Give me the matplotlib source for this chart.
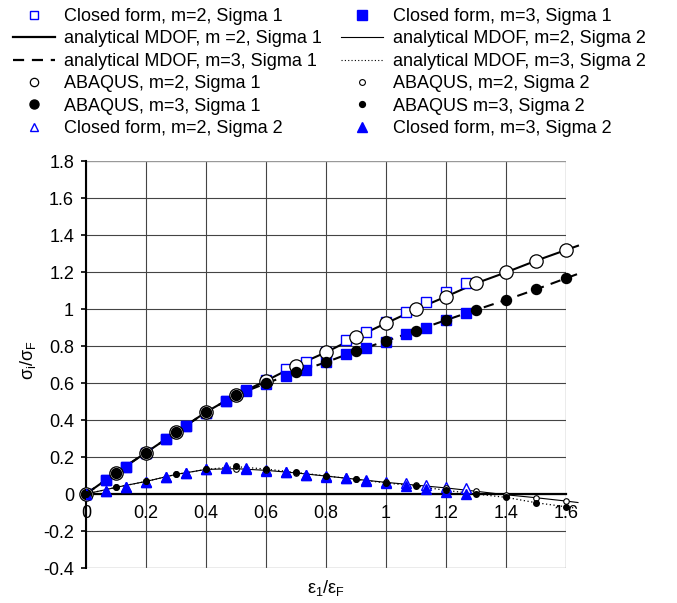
import matplotlib
matplotlib.use("Agg")
import matplotlib.pyplot as plt
from matplotlib.lines import Line2D
from matplotlib.ticker import FuncFormatter

plt.rcParams["font.family"] = ["Liberation Sans", "DejaVu Sans"]
plt.rcParams["mathtext.default"] = "regular"

BLUE = "#0000ff"

# closed-form solution, sampled at eps/epsF = k/15
cf_x = [0.0, 0.067, 0.133, 0.2, 0.267, 0.333, 0.4, 0.467, 0.533, 0.6,
        0.667, 0.733, 0.8, 0.867, 0.933, 1.0, 1.067, 1.133, 1.2, 1.267]
cf_m2_s1 = [0.0, 0.075, 0.148, 0.222, 0.296, 0.366, 0.437, 0.503, 0.560, 0.615,
            0.675, 0.715, 0.770, 0.832, 0.877, 0.930, 0.985, 1.040, 1.094, 1.142]
cf_m3_s1 = [0.0, 0.075, 0.148, 0.222, 0.296, 0.366, 0.437, 0.503, 0.558, 0.592,
            0.637, 0.672, 0.714, 0.756, 0.789, 0.822, 0.865, 0.900, 0.940, 0.977]
cf_m2_s2 = [0.0, 0.018, 0.040, 0.066, 0.094, 0.112, 0.133, 0.140, 0.135, 0.127,
            0.117, 0.105, 0.097, 0.088, 0.078, 0.067, 0.057, 0.049, 0.040, 0.031]
cf_m3_s2 = [0.0, 0.018, 0.040, 0.066, 0.094, 0.112, 0.133, 0.144, 0.142, 0.130,
            0.117, 0.103, 0.094, 0.085, 0.072, 0.058, 0.043, 0.025, 0.012, 0.0]

# ABAQUS results
abq_x = [0.0, 0.1, 0.2, 0.3, 0.4, 0.5, 0.6, 0.7, 0.8, 0.9,
         1.0, 1.1, 1.2, 1.3, 1.4, 1.5, 1.6]
abq_m2_s1 = [0.0, 0.115, 0.224, 0.333, 0.443, 0.535, 0.612, 0.694, 0.766, 0.847,
             0.923, 0.998, 1.067, 1.139, 1.198, 1.261, 1.319]
abq_m3_s1 = [0.0, 0.115, 0.224, 0.333, 0.443, 0.535, 0.598, 0.658, 0.712, 0.773,
             0.827, 0.883, 0.940, 0.995, 1.049, 1.106, 1.166]
abq_m2_s2 = [0.0, 0.036, 0.068, 0.106, 0.133, 0.137, 0.128, 0.114, 0.097, 0.080,
             0.063, 0.048, 0.033, 0.015, -0.004, -0.020, -0.038]
abq_m3_s2 = [0.0, 0.036, 0.068, 0.106, 0.133, 0.151, 0.135, 0.117, 0.098, 0.079,
             0.060, 0.043, 0.020, 0.0, -0.018, -0.047, -0.069]

# analytical MDOF curves (run slightly past the last grid line)
an_x = [0.0, 0.1, 0.2, 0.3, 0.4, 0.5, 0.6, 0.7, 0.8, 0.9,
        1.0, 1.1, 1.2, 1.3, 1.4, 1.5, 1.6, 1.64]
an_m2_s1 = [0.0, 0.115, 0.224, 0.333, 0.443, 0.535, 0.612, 0.694, 0.766, 0.847,
            0.923, 0.998, 1.067, 1.139, 1.198, 1.261, 1.319, 1.342]
an_m3_s1 = [0.0, 0.115, 0.224, 0.333, 0.443, 0.535, 0.598, 0.658, 0.712, 0.773,
            0.827, 0.883, 0.940, 0.995, 1.049, 1.106, 1.166, 1.190]
an_m2_s2 = [0.0, 0.036, 0.068, 0.106, 0.133, 0.137, 0.128, 0.114, 0.097, 0.080,
            0.063, 0.048, 0.033, 0.015, -0.004, -0.020, -0.038, -0.046]
an_m3_s2 = [0.0, 0.036, 0.068, 0.106, 0.133, 0.148, 0.135, 0.117, 0.098, 0.079,
            0.060, 0.043, 0.020, 0.0, -0.018, -0.047, -0.069, -0.078]

x_ticks = [0, 0.2, 0.4, 0.6, 0.8, 1.0, 1.2, 1.4, 1.6]
y_ticks = [-0.4, -0.2, 0, 0.2, 0.4, 0.6, 0.8, 1.0, 1.2, 1.4, 1.6, 1.8]

DASHED = (0, (5, 3.5))


def fmt(v, _pos):
    return f"{v:g}"


fig = plt.figure(figsize=(6.77, 6.03), dpi=100)
ax = fig.add_axes([0.127, 0.058, 0.709, 0.675])

# curves
ax.plot(an_x, an_m2_s1, color="black", lw=1.5, clip_on=False, zorder=2)
ax.plot(an_x, an_m3_s1, color="black", lw=1.5, linestyle=DASHED, clip_on=False, zorder=2)
ax.plot(an_x, an_m2_s2, color="black", lw=0.8, clip_on=False, zorder=2)
ax.plot(an_x, an_m3_s2, color="black", lw=0.9, linestyle=(0, (1, 2)), clip_on=False, zorder=2)

# markers
ax.plot(cf_x, cf_m2_s1, "s", ms=6.6, mfc="white", mec=BLUE, mew=1.0, ls="none", zorder=3)
ax.plot(cf_x, cf_m3_s1, "s", ms=6.8, mfc=BLUE, mec=BLUE, ls="none", zorder=3)
ax.plot(abq_x, abq_m2_s1, "o", ms=9.6, mfc="white", mec="black", mew=0.9, ls="none",
        clip_on=False, zorder=4)
ax.plot(abq_x, abq_m3_s1, "o", ms=7.2, mfc="black", mec="black", ls="none",
        clip_on=False, zorder=4)
ax.plot(cf_x, cf_m2_s2, "^", ms=6.8, mfc="white", mec=BLUE, mew=1.0, ls="none", zorder=5)
ax.plot(cf_x, cf_m3_s2, "^", ms=6.8, mfc=BLUE, mec=BLUE, ls="none", zorder=5)
ax.plot(abq_x, abq_m2_s2, "o", ms=4.0, mfc="white", mec="black", mew=0.8, ls="none",
        clip_on=False, zorder=6)
ax.plot(abq_x, abq_m3_s2, "o", ms=4.0, mfc="black", mec="black", ls="none",
        clip_on=False, zorder=6)

ax.set_xlim(0, 1.6)
ax.set_ylim(-0.4, 1.8)
ax.set_xticks(x_ticks)
ax.set_yticks(y_ticks)
ax.xaxis.set_major_formatter(FuncFormatter(fmt))
ax.yaxis.set_major_formatter(FuncFormatter(fmt))

ax.spines["bottom"].set_position(("data", 0))
ax.spines["bottom"].set_linewidth(1.6)
ax.spines["left"].set_linewidth(1.5)
ax.spines["top"].set_visible(False)
ax.spines["right"].set_visible(False)

ax.tick_params(axis="x", length=0, pad=8, labelsize=13)
ax.tick_params(axis="y", length=3.6, width=1.2, pad=5, labelsize=13, direction="out")

ax.grid(True, color="#444444", lw=0.8)
ax.set_axisbelow(True)
# outer frame lines are lighter than the interior grid
for line in (ax.get_xgridlines()[-1], ax.get_ygridlines()[0], ax.get_ygridlines()[-1]):
    line.set_color("#999999")
    line.set_linewidth(1.0)

fig.text(0.481, 1 - 588 / 603, "ε$_1$/ε$_F$", ha="center", va="center", fontsize=13)
fig.text(28 / 677, 1 - 360 / 603, "σ$_i$/σ$_F$", ha="center", va="center",
         rotation=90, fontsize=13)

handles = [
    Line2D([], [], marker="s", ms=6.0, mfc="white", mec=BLUE, mew=1.0, ls="none"),
    Line2D([], [], color="black", lw=1.6),
    Line2D([], [], color="black", lw=1.6, linestyle=(0, (5, 3.5))),
    Line2D([], [], marker="o", ms=6.0, mfc="white", mec="black", mew=0.9, ls="none"),
    Line2D([], [], marker="o", ms=6.5, mfc="black", mec="black", ls="none"),
    Line2D([], [], marker="^", ms=6.0, mfc="white", mec=BLUE, mew=1.0, ls="none"),
    Line2D([], [], marker="s", ms=6.5, mfc=BLUE, mec=BLUE, ls="none"),
    Line2D([], [], color="black", lw=0.8),
    Line2D([], [], color="black", lw=0.8, linestyle=(0, (1, 2))),
    Line2D([], [], marker="o", ms=4.2, mfc="white", mec="black", mew=0.8, ls="none"),
    Line2D([], [], marker="o", ms=4.2, mfc="black", mec="black", ls="none"),
    Line2D([], [], marker="^", ms=6.5, mfc=BLUE, mec=BLUE, ls="none"),
]
labels = [
    "Closed form, m=2, Sigma 1",
    "analytical MDOF, m =2, Sigma 1",
    "analytical MDOF, m=3, Sigma 1",
    "ABAQUS, m=2, Sigma 1",
    "ABAQUS, m=3, Sigma 1",
    "Closed form, m=2, Sigma 2",
    "Closed form, m=3, Sigma 1",
    "analytical MDOF, m=2, Sigma 2",
    "analytical MDOF, m=3, Sigma 2",
    "ABAQUS, m=2, Sigma 2",
    "ABAQUS m=3, Sigma 2",
    "Closed form, m=3, Sigma 2",
]
fig.legend(handles, labels, loc="upper left", bbox_to_anchor=(13 / 677, 1 - 8 / 603),
           ncol=2, frameon=False, borderpad=0, borderaxespad=0, handlelength=2.3,
           handletextpad=0.55, columnspacing=1.05, labelspacing=0.3, fontsize=13)

fig.savefig("out.png", dpi=100)
plt.close(fig)
